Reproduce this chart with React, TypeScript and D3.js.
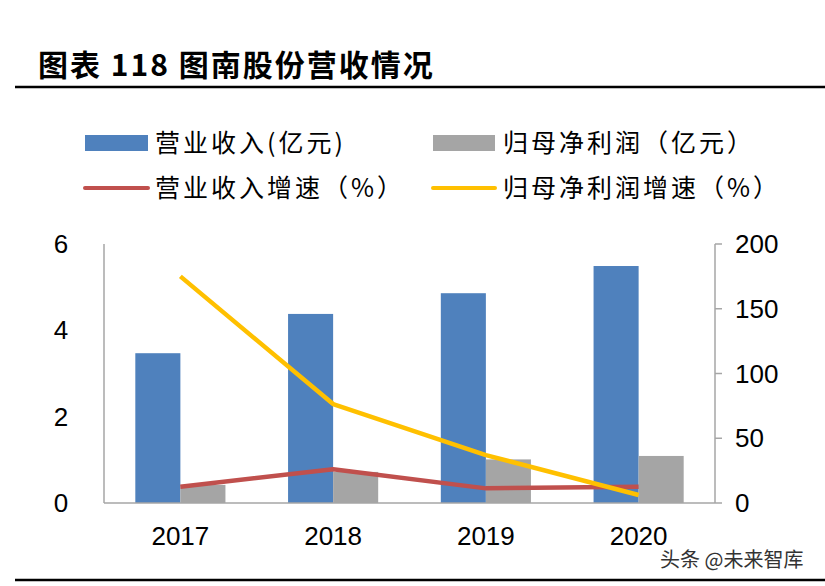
import React from "react";
import * as d3 from "d3";

const years = ["2017", "2018", "2019", "2020"];
const revenue = [3.47, 4.38, 4.86, 5.49];
const netProfit = [0.42, 0.72, 1.01, 1.09];
const revenueGrowth = [12.6, 26, 11.3, 12.6];
const profitGrowth = [175, 76.4, 37, 6.2];
const leftTicks = [0, 2, 4, 6];
const rightTicks = [0, 50, 100, 150, 200];

const W = 825, H = 586;
const X0 = 104, X1 = 715, YT = 244, YB = 503;
const CJK = "'Noto Sans CJK SC', sans-serif";
const LAT = "'Liberation Sans', Arial, sans-serif";
const C = { blue: "#4F81BD", gray: "#A5A5A5", red: "#C0504D", yellow: "#FFC000", axis: "#a6a6a6" };

export default function App() {
  const x = d3.scaleBand<string>().domain(years).range([X0, X1]).paddingInner(0.41).paddingOuter(0.205);
  const inner = d3.scaleBand<string>().domain(["rev", "np"]).range([0, x.bandwidth()]);
  const yL = d3.scaleLinear().domain([0, 6]).range([YB, YT]);
  const yR = d3.scaleLinear().domain([0, 200]).range([YB, YT]);
  const cx = (y: string) => (x(y) as number) + x.bandwidth() / 2;
  const line = d3.line<number>().x((_, i) => cx(years[i])).y((d) => yR(d));
  const legendFont = { fontFamily: CJK, fontSize: 25, letterSpacing: 3, fill: "#000" };

  return (
    <svg width={W} height={H} style={{ position: "absolute", left: 0, top: 0, background: "#fff" }}>
      <text x={38} y={76} fontFamily={CJK} fontWeight="bold" fontSize={30} letterSpacing={2} fill="#000">图表 118 图南股份营收情况</text>
      <line x1={15} x2={825} y1={87} y2={87} stroke="#000" strokeWidth={2.5} />

      {/* legend */}
      <rect x={85} y={135} width={63} height={16} fill={C.blue} />
      <text x={155} y={152} {...legendFont}>营业收入(亿元)</text>
      <rect x={433} y={135} width={62} height={16} fill={C.gray} />
      <text x={503} y={152} {...legendFont}>归母净利润（亿元）</text>
      <line x1={85} x2={148} y1={188} y2={188} stroke={C.red} strokeWidth={4} strokeLinecap="round" />
      <text x={155} y={197} {...legendFont}>营业收入增速（%）</text>
      <line x1={433} x2={495} y1={188} y2={188} stroke={C.yellow} strokeWidth={4} strokeLinecap="round" />
      <text x={503} y={197} {...legendFont}>归母净利润增速（%）</text>

      {/* bars */}
      {years.map((yr, i) => (
        <g key={yr}>
          <rect x={(x(yr) as number) + (inner("rev") as number)} y={yL(revenue[i])} width={inner.bandwidth()} height={YB - yL(revenue[i])} fill={C.blue} />
          <rect x={(x(yr) as number) + (inner("np") as number)} y={yL(netProfit[i])} width={inner.bandwidth()} height={YB - yL(netProfit[i])} fill={C.gray} />
        </g>
      ))}

      {/* axes */}
      <line x1={X0} x2={X0} y1={YT} y2={YB} stroke={C.axis} strokeWidth={1.5} />
      <line x1={X0} x2={X1} y1={YB} y2={YB} stroke={C.axis} strokeWidth={1.5} />
      <line x1={X1} x2={X1} y1={YT} y2={YB} stroke={C.axis} strokeWidth={1.5} />
      {rightTicks.map((t) => (
        <g key={t}>
          <line x1={X1} x2={X1 + 7} y1={yR(t)} y2={yR(t)} stroke={C.axis} strokeWidth={1.5} />
          <text x={735} y={yR(t)} dy="0.35em" fontFamily={LAT} fontSize={26} fill="#000">{t}</text>
        </g>
      ))}
      {leftTicks.map((t) => (
        <text key={t} x={61} y={yL(t)} dy="0.35em" textAnchor="middle" fontFamily={LAT} fontSize={26} fill="#000">{t}</text>
      ))}
      {years.map((yr) => (
        <text key={yr} x={cx(yr)} y={545} textAnchor="middle" fontFamily={LAT} fontSize={26} fill="#000">{yr}</text>
      ))}

      {/* lines */}
      <path d={line(revenueGrowth) || ""} fill="none" stroke={C.red} strokeWidth={4.5} strokeLinejoin="round" />
      <path d={line(profitGrowth) || ""} fill="none" stroke={C.yellow} strokeWidth={4.5} strokeLinejoin="round" />

      <text x={660} y={567} fontFamily={CJK} fontSize={20} fill="#333">头条 @未来智库</text>
      <line x1={15} x2={825} y1={580} y2={580} stroke="#000" strokeWidth={2.5} />
    </svg>
  );
}
